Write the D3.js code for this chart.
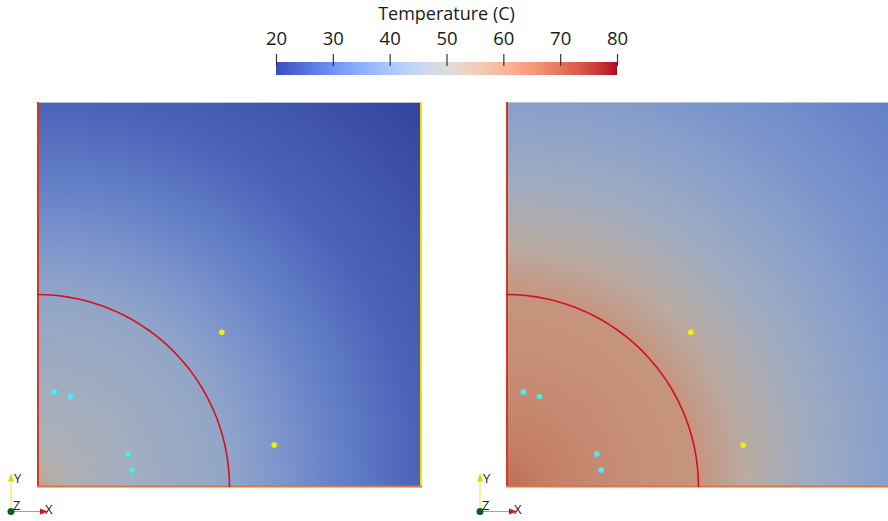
<!DOCTYPE html>
<html>
<head>
<meta charset="utf-8">
<script src="https://cdn.jsdelivr.net/npm/d3@7"></script>
<style>
  html, body { margin: 0; padding: 0; background: #fff; }
  svg { display: block; font-family: "Open Sans", sans-serif; }
</style>
</head>
<body>
<svg id="chart" width="888" height="521"></svg>
<script>
// colour bar
const tempTicks = [20, 30, 40, 50, 60, 70, 80];
const tempDomain = [20, 80];
// Moreland cool-to-warm table (position 0..1, rgb)
const cmapPos = [0, 0.03125, 0.0625, 0.09375, 0.125, 0.15625, 0.1875, 0.21875, 0.25, 0.28125,
    0.3125, 0.34375, 0.375, 0.40625, 0.4375, 0.46875, 0.5, 0.53125, 0.5625, 0.59375, 0.625,
    0.65625, 0.6875, 0.71875, 0.75, 0.78125, 0.8125, 0.84375, 0.875, 0.90625, 0.9375, 0.96875, 1];
const cmapColors = ['rgb(59,76,192)', 'rgb(68,90,204)', 'rgb(77,104,215)', 'rgb(87,117,225)',
    'rgb(98,130,234)', 'rgb(108,142,241)', 'rgb(119,154,247)', 'rgb(130,165,251)', 'rgb(141,176,254)',
    'rgb(152,185,255)', 'rgb(163,194,255)', 'rgb(174,201,253)', 'rgb(184,208,249)', 'rgb(194,213,244)',
    'rgb(204,217,238)', 'rgb(213,219,230)', 'rgb(221,221,221)', 'rgb(229,216,209)', 'rgb(236,211,197)',
    'rgb(241,204,185)', 'rgb(245,196,173)', 'rgb(247,187,160)', 'rgb(247,177,148)', 'rgb(247,166,135)',
    'rgb(244,154,123)', 'rgb(241,141,111)', 'rgb(236,127,99)', 'rgb(229,112,88)', 'rgb(222,96,77)',
    'rgb(213,80,66)', 'rgb(203,62,56)', 'rgb(192,40,47)', 'rgb(180,4,38)'];

// radial temperature profile measured from the lower-left corner (domain units)
const profileRadius = [0, 0.05, 0.1, 0.25, 0.5, 0.63, 0.8, 1.0, 1.12, 1.42];
const leftTemp  = [57, 52, 49, 46, 42, 37.5, 32, 26.5, 25, 21];
const rightTemp = [68, 66, 64.5, 62, 59.5, 52.5, 45, 40, 37, 32];

// isotherm and probe points
const contourRadius = 0.5;
const cyanPoints = [[0.045, 0.247], [0.087, 0.235], [0.236, 0.086], [0.247, 0.044]];
const yellowPoints = [[0.48, 0.402], [0.616, 0.109]];

const panels = [
    { name: 'left', temps: leftTemp, left: 37, rightEdge: true },
    { name: 'right', temps: rightTemp, left: 506, rightEdge: false }
];

const props = {
    panelTop: 102,
    panelSize: 385,
    shade: 0.8,
    bar: { x0: 276, x1: 617, y: 62, h: 13 }
};

const svg = d3.select('#chart');
const defs = svg.append('defs');

const cmap = d3.scaleLinear()
    .domain(cmapPos.map(p => tempDomain[0] + p * (tempDomain[1] - tempDomain[0])))
    .range(cmapColors)
    .interpolate(d3.interpolateRgb)
    .clamp(true);

// surface colour is the map colour dimmed by the render lighting
const shaded = t => {
    const c = d3.rgb(cmap(t));
    return d3.rgb(c.r * props.shade, c.g * props.shade, c.b * props.shade).formatHex();
};

// ---- colour bar ----
const barScale = d3.scaleLinear().domain(tempDomain).range([props.bar.x0, props.bar.x1]);
const barGrad = defs.append('linearGradient').attr('id', 'barGrad');
barGrad.selectAll('stop').data(cmapPos).join('stop')
    .attr('offset', d => d)
    .attr('stop-color', (d, i) => cmapColors[i]);

svg.append('rect')
    .attr('x', props.bar.x0).attr('y', props.bar.y)
    .attr('width', props.bar.x1 - props.bar.x0).attr('height', props.bar.h)
    .attr('fill', 'url(#barGrad)');

const barAxis = d3.axisTop(barScale).tickValues(tempTicks).tickSize(12).tickSizeOuter(0);
const axisG = svg.append('g')
    .attr('transform', `translate(0,${props.bar.y + 4})`)
    .call(barAxis);
axisG.select('.domain').remove();
axisG.selectAll('.tick line').attr('stroke', '#333').attr('stroke-width', 1.2);
axisG.selectAll('.tick text')
    .attr('y', -21)
    .attr('fill', '#1a1a1a')
    .attr('font-size', 18.5)
    .attr('font-family', '"Open Sans", sans-serif');

svg.append('text')
    .attr('x', (props.bar.x0 + props.bar.x1) / 2)
    .attr('y', 20)
    .attr('text-anchor', 'middle')
    .attr('font-size', 18)
    .attr('fill', '#1a1a1a')
    .text('Temperature (C)');

// ---- panels ----
panels.forEach(panel => {
    const x = d3.scaleLinear().domain([0, 1]).range([panel.left, panel.left + props.panelSize]);
    const y = d3.scaleLinear().domain([0, 1]).range([props.panelTop + props.panelSize, props.panelTop]);
    const rMax = profileRadius[profileRadius.length - 1];
    const pxR = x(rMax) - x(0);

    const grad = defs.append('radialGradient')
        .attr('id', `field-${panel.name}`)
        .attr('gradientUnits', 'userSpaceOnUse')
        .attr('cx', x(0)).attr('cy', y(0))
        .attr('fx', x(0)).attr('fy', y(0))
        .attr('r', pxR);
    grad.selectAll('stop').data(profileRadius).join('stop')
        .attr('offset', d => d / rMax)
        .attr('stop-color', (d, i) => shaded(panel.temps[i]));

    const g = svg.append('g');
    g.append('rect')
        .attr('x', x(0)).attr('y', y(1))
        .attr('width', props.panelSize).attr('height', props.panelSize)
        .attr('fill', `url(#field-${panel.name})`);

    // outline edges
    g.append('line').attr('x1', x(0)).attr('x2', x(1)).attr('y1', y(1) + 0.5).attr('y2', y(1) + 0.5)
        .attr('stroke', '#b9c3dc').attr('stroke-width', 1);
    if (panel.rightEdge) {
        g.append('line').attr('x1', x(1) - 1).attr('x2', x(1) - 1).attr('y1', y(1)).attr('y2', y(0))
            .attr('stroke', '#ece300').attr('stroke-width', 2);
    }
    g.append('line').attr('x1', x(0) + 1).attr('x2', x(0) + 1).attr('y1', y(1)).attr('y2', y(0))
        .attr('stroke', '#cf3a22').attr('stroke-width', 2);
    g.append('line').attr('x1', x(0)).attr('x2', x(1)).attr('y1', y(0) - 0.5).attr('y2', y(0) - 0.5)
        .attr('stroke', '#e2743c').attr('stroke-width', 2);

    // isotherm
    const angles = d3.range(0, 31).map(i => i / 30 * Math.PI / 2);
    const contour = d3.line()
        .x(a => x(contourRadius * Math.cos(a)))
        .y(a => y(contourRadius * Math.sin(a)));
    g.append('path')
        .attr('d', contour(angles))
        .attr('fill', 'none')
        .attr('stroke', '#d4101c')
        .attr('stroke-width', 1.6);

    g.selectAll('.cyan').data(cyanPoints).join('circle')
        .attr('class', 'cyan')
        .attr('cx', d => x(d[0])).attr('cy', d => y(d[1]))
        .attr('r', 2.8).attr('fill', '#3ff2f2');
    g.selectAll('.yellow').data(yellowPoints).join('circle')
        .attr('class', 'yellow')
        .attr('cx', d => x(d[0])).attr('cy', d => y(d[1]))
        .attr('r', 2.8).attr('fill', '#f4f000');

    // orientation triad
    const ox = panel.left - 26, oy = 511.5;
    const t = svg.append('g').attr('transform', `translate(${ox},${oy})`);
    t.append('line').attr('x1', 0).attr('y1', 0).attr('x2', 0).attr('y2', -32)
        .attr('stroke', '#e8e84a').attr('stroke-width', 1);
    t.append('path').attr('d', 'M-3,-30 L0,-38 L3,-30 Z').attr('fill', '#d8d800');
    t.append('line').attr('x1', 0).attr('y1', 0).attr('x2', 31).attr('y2', 0)
        .attr('stroke', '#f08080').attr('stroke-width', 1);
    t.append('path').attr('d', 'M29,-3 L37,0 L29,3 Z').attr('fill', '#e01010');
    t.append('circle').attr('r', 3.5).attr('fill', '#0b5e1c');
    t.append('text').attr('x', 3).attr('y', -29).attr('font-size', 13).attr('fill', '#222').text('Y');
    t.append('text').attr('x', 2).attr('y', -2).attr('font-size', 13).attr('fill', '#222').text('Z');
    t.append('text').attr('x', 34).attr('y', 2).attr('font-size', 13).attr('fill', '#222').text('X');
});
</script>
</body>
</html>
